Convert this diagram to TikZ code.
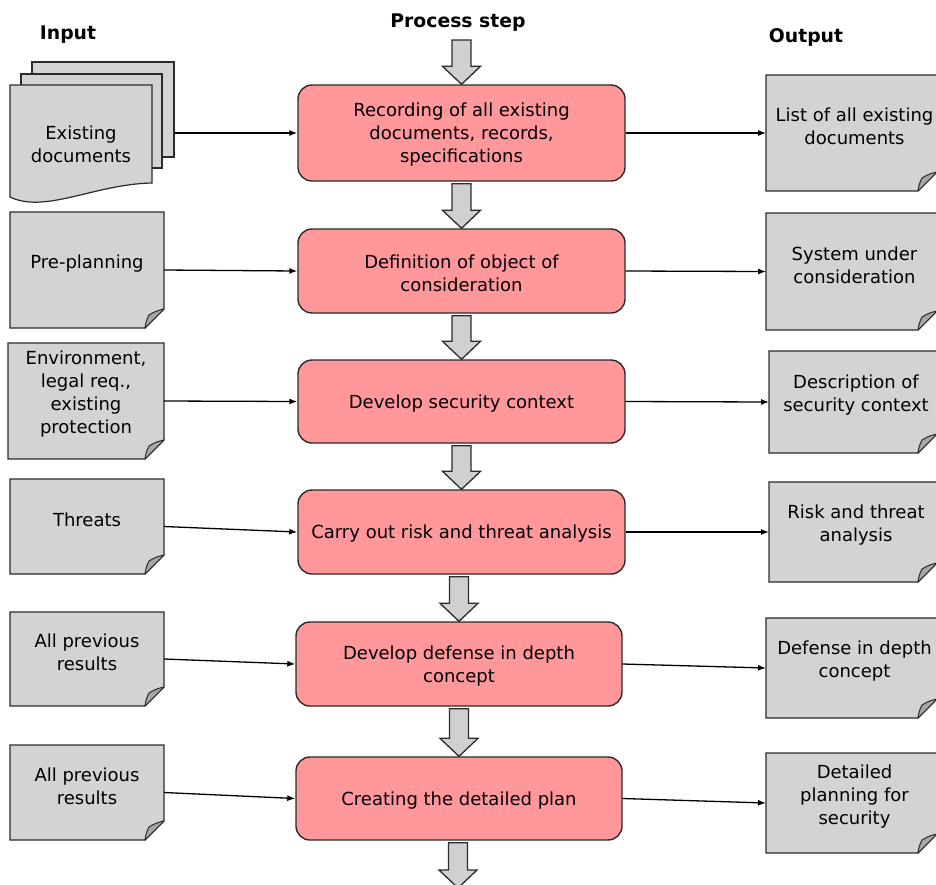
\documentclass[tikz,border=0pt]{standalone}
\usepackage{fontspec}
\setmainfont{DejaVu Sans}
\usetikzlibrary{calc,backgrounds,arrows.meta}
\definecolor{procfill}{HTML}{FF979B}
\definecolor{notefill}{HTML}{D3D3D3}
\definecolor{foldfill}{HTML}{A6A6A6}
\definecolor{arrowfill}{HTML}{D0D0D0}
\definecolor{edge}{HTML}{2B2B2B}

\tikzset{
  proc/.style={draw=edge, fill=procfill, line width=1.4pt, rounded corners=14pt,
    align=center, font=\fontsize{18}{23}\selectfont, inner sep=0pt},
  proclabel/.style={align=center, font=\fontsize{18}{23}\selectfont, inner sep=0pt},
  notearea/.style={inner sep=0pt, outer sep=0pt},
  notelabel/.style={align=center, font=\fontsize{18}{23}\selectfont, inner sep=0pt},
  notebody/.style={draw=edge, fill=notefill, line width=1.2pt, line join=miter},
  notefoldst/.style={draw=edge, fill=foldfill, line width=1pt, line join=round},
  conn/.style={draw=black, line width=1.3pt, -{Latex[length=8pt,width=6pt]}},
  blockarrow/.style={draw=edge, fill=arrowfill, line width=1.3pt, line join=miter},
  heading/.style={font=\bfseries\fontsize{18.8}{23}\selectfont, inner sep=0pt}
}

% note with a folded lower right corner: [text x shift]{name}{x1}{y1}{x2}{y2}{text}
\newcommand\notebox[7][0]{%
  \path[notebody] (#3,#4) -- (#5,#4) -- (#5,{#6-19}) -- ({#5-19},#6) -- (#3,#6) -- cycle;
  \path[notefoldst] ({#5-19},#6) to[bend left=10] ({#5-15},{#6-13})
    to[bend left=10] (#5,{#6-19}) -- cycle;
  \node[notearea, minimum width={#5-#3}, minimum height={#6-#4}] (#2)
    at ({(#3+#5)/2},{(#4+#6)/2}) {};
  \node[notelabel] (#2-text) at ({(#3+#5)/2+#1},{(#4+#6)/2-6.5}) {#7};
}

% rounded process step with its text: {name}{cx}{cy}{w}{h}{text}
\newcommand\procstep[6]{%
  \node[proc, minimum width=#4, minimum height=#5] (#1) at (#2,#3) {};
  \node[proclabel] (#1-text) at (#2,{#3+2}) {#6};
}

% block arrow from the bottom of one step to the top of the next
\newcommand\blockarrow[2]{%
  \path[blockarrow]
    ($(#2 |- #1)+(-9.5,2)$) -- ($(#2)+(-9.5,-18)$) -- ($(#2)+(-19,-18)$) -- (#2)
    -- ($(#2)+(19,-18)$) -- ($(#2)+(9.5,-18)$) -- ($(#2 |- #1)+(9.5,2)$) -- cycle;
}

\begin{document}
\begin{tikzpicture}[x=1pt, y=-1pt]
\useasboundingbox (0,0) rectangle (936,884);

% column headings
\node[heading] (hin)   at (68,35)  {Input};
\node[heading] (hproc) at (458,22.5) {Process step};
\node[heading] (hout)  at (806,37.5) {Output};

% process steps
\procstep{p1}{461.5}{133}{327}{96}{Recording of all existing\\documents, records,\\specifications}
\procstep{p2}{461.5}{271}{327}{84}{Definition of object of\\consideration}
\procstep{p3}{461.5}{401.5}{327}{83}{Develop security context}
\procstep{p4}{461.5}{532}{327}{84}{Carry out risk and threat analysis}
\procstep{p5}{459}{664}{326}{84}{Develop defense in depth\\concept}
\procstep{p6}{459}{798.5}{326}{83}{Creating the detailed plan}

% flow between the steps
\coordinate (topstart) at (460,38);
\coordinate (bottomend) at (458,888);
\blockarrow{topstart}{p1.north}
\blockarrow{p1.south}{p2.north}
\blockarrow{p2.south}{p3.north}
\blockarrow{p3.south}{p4.north}
\blockarrow{p4.south}{p5.north}
\blockarrow{p5.south}{p6.north}
\blockarrow{p6.south}{bottomend}

% stacked documents
\path[notebody] (32,62) rectangle (174,157);
\path[notebody] (21,74) rectangle (162,168);
\path[notebody] (10,85) -- (152,85) -- (152,183)
  .. controls (95,184) and (45,214) .. (10,197) -- cycle;
\node[notearea, minimum width=142, minimum height=95] (in1c) at (103,109.5) {};
\node[notearea, minimum width=141, minimum height=94] (in1b) at (91.5,121) {};
\node[notelabel] (in1) at (81,144) {Existing\\documents};

% inputs
\notebox{in2}{10}{212}{164}{328}{Pre-planning}
\notebox{in3}{8}{343}{164}{459}{Environment,\\legal req.,\\existing\\protection}
\notebox{in4}{10}{479}{164}{574}{Threats}
\notebox{in5}{10}{612}{164}{706}{All previous\\results}
\notebox{in6}{10}{745}{164}{840}{All previous\\results}

% outputs
\notebox[3]{o1}{766}{75}{937}{191}{List of all existing\\documents}
\notebox[3]{o2}{766}{213}{937}{330}{System under\\consideration}
\notebox[3]{o3}{769}{351}{937}{453}{Description of\\security context}
\notebox[3]{o4}{769}{482}{937}{582}{Risk and threat\\analysis}
\notebox[3]{o5}{766}{618}{937}{718}{Defense in depth\\concept}
\notebox[3]{o6}{766}{753}{937}{853}{Detailed\\planning for\\security}

% inputs into the steps
\draw[conn] (in1c.east |- p1.west) -- (p1.west);
\draw[conn] (in2.east) -- (p2.west);
\draw[conn] (in3.east) -- (p3.west);
\draw[conn] (in4.east) -- (p4.west);
\draw[conn] (in5.east) -- (p5.west);
\draw[conn] (in6.east) -- (p6.west);

% steps to their results
\draw[conn] (p1.east) -- (o1.west);
\draw[conn] (p2.east) -- (o2.west);
\draw[conn] (p3.east) -- (o3.west);
\draw[conn] (p4.east) -- (o4.west);
\draw[conn] (p5.east) -- (o5.west);
\draw[conn] (p6.east) -- (o6.west);
\end{tikzpicture}
\end{document}
